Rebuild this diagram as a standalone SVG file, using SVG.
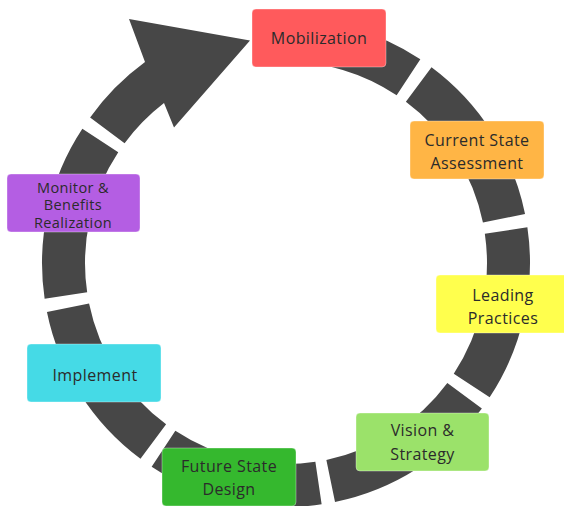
<svg xmlns="http://www.w3.org/2000/svg" width="564" height="506" viewBox="0 0 564 506">
<style>
.seg{fill:none;stroke:#474747;stroke-width:43;stroke-linecap:butt}
.arrow{fill:#474747}
.box{stroke-width:1;stroke-opacity:0.35;stroke:#ffffff}
.t{font-family:"Open Sans","Noto Sans","Liberation Sans",sans-serif;font-size:16px;letter-spacing:0.4px;fill:#2b2b2b;text-anchor:middle}
.s{font-size:14.5px}
</style>
<rect width="564" height="506" fill="#ffffff"/>
<g id="connectors">
<path class="seg" d="M278.2 40.6 A222.5 222.5 0 0 1 408.5 77.3"/>
<path class="seg" d="M418.7 84.4 A222.5 222.5 0 0 1 504.0 218.3"/>
<path class="seg" d="M506.1 230.5 A222.5 222.5 0 0 1 471.7 385.5"/>
<path class="seg" d="M464.6 395.7 A222.5 222.5 0 0 1 330.7 481.0"/>
<path class="seg" d="M318.5 483.1 A222.5 222.5 0 0 1 163.5 448.7"/>
<path class="seg" d="M153.3 441.6 A222.5 222.5 0 0 1 68.0 307.7"/>
<path class="seg" d="M65.9 295.5 A222.5 222.5 0 0 1 100.3 140.5"/>
<path class="arrow" d="M90.1 117.5 A244 244 0 0 1 145 62 L129 19 L250 40.5 L174 127.5 L164 103 A201 201 0 0 0 124.6 143.2 Z"/>
</g>
<g id="mobilization">
<rect class="box" x="252" y="9" width="134" height="58" rx="4" fill="#ff5a5c"/>
<text class="t" x="319" y="43.5">Mobilization</text>
</g>
<g id="current-state">
<rect class="box" x="410" y="121" width="134" height="58" rx="4" fill="#ffb545"/>
<text class="t" x="477" y="145.5">Current State</text>
<text class="t" x="477" y="168.5">Assessment</text>
</g>
<g id="leading-practices">
<rect class="box" x="436" y="275" width="134" height="58" rx="4" fill="#ffff4d"/>
<text class="t" x="503" y="301">Leading</text>
<text class="t" x="503" y="324">Practices</text>
</g>
<g id="vision-strategy">
<rect class="box" x="356" y="413" width="133" height="58" rx="4" fill="#9be26a"/>
<text class="t" x="422.5" y="436">Vision &amp;</text>
<text class="t" x="422.5" y="460">Strategy</text>
</g>
<g id="future-state">
<rect class="box" x="162" y="448" width="134" height="58" rx="4" fill="#35b82e"/>
<text class="t" x="229" y="471.5">Future State</text>
<text class="t" x="229" y="494.5">Design</text>
</g>
<g id="implement">
<rect class="box" x="27" y="344" width="134" height="58" rx="4" fill="#45dae6"/>
<text class="t" x="95" y="380.5">Implement</text>
</g>
<g id="monitor">
<rect class="box" x="7" y="174" width="133" height="58" rx="4" fill="#b45ee3"/>
<text class="t s" x="73" y="192.5">Monitor &amp;</text>
<text class="t s" x="73" y="210">Benefits</text>
<text class="t s" x="73" y="227.5">Realization</text>
</g>
</svg>
